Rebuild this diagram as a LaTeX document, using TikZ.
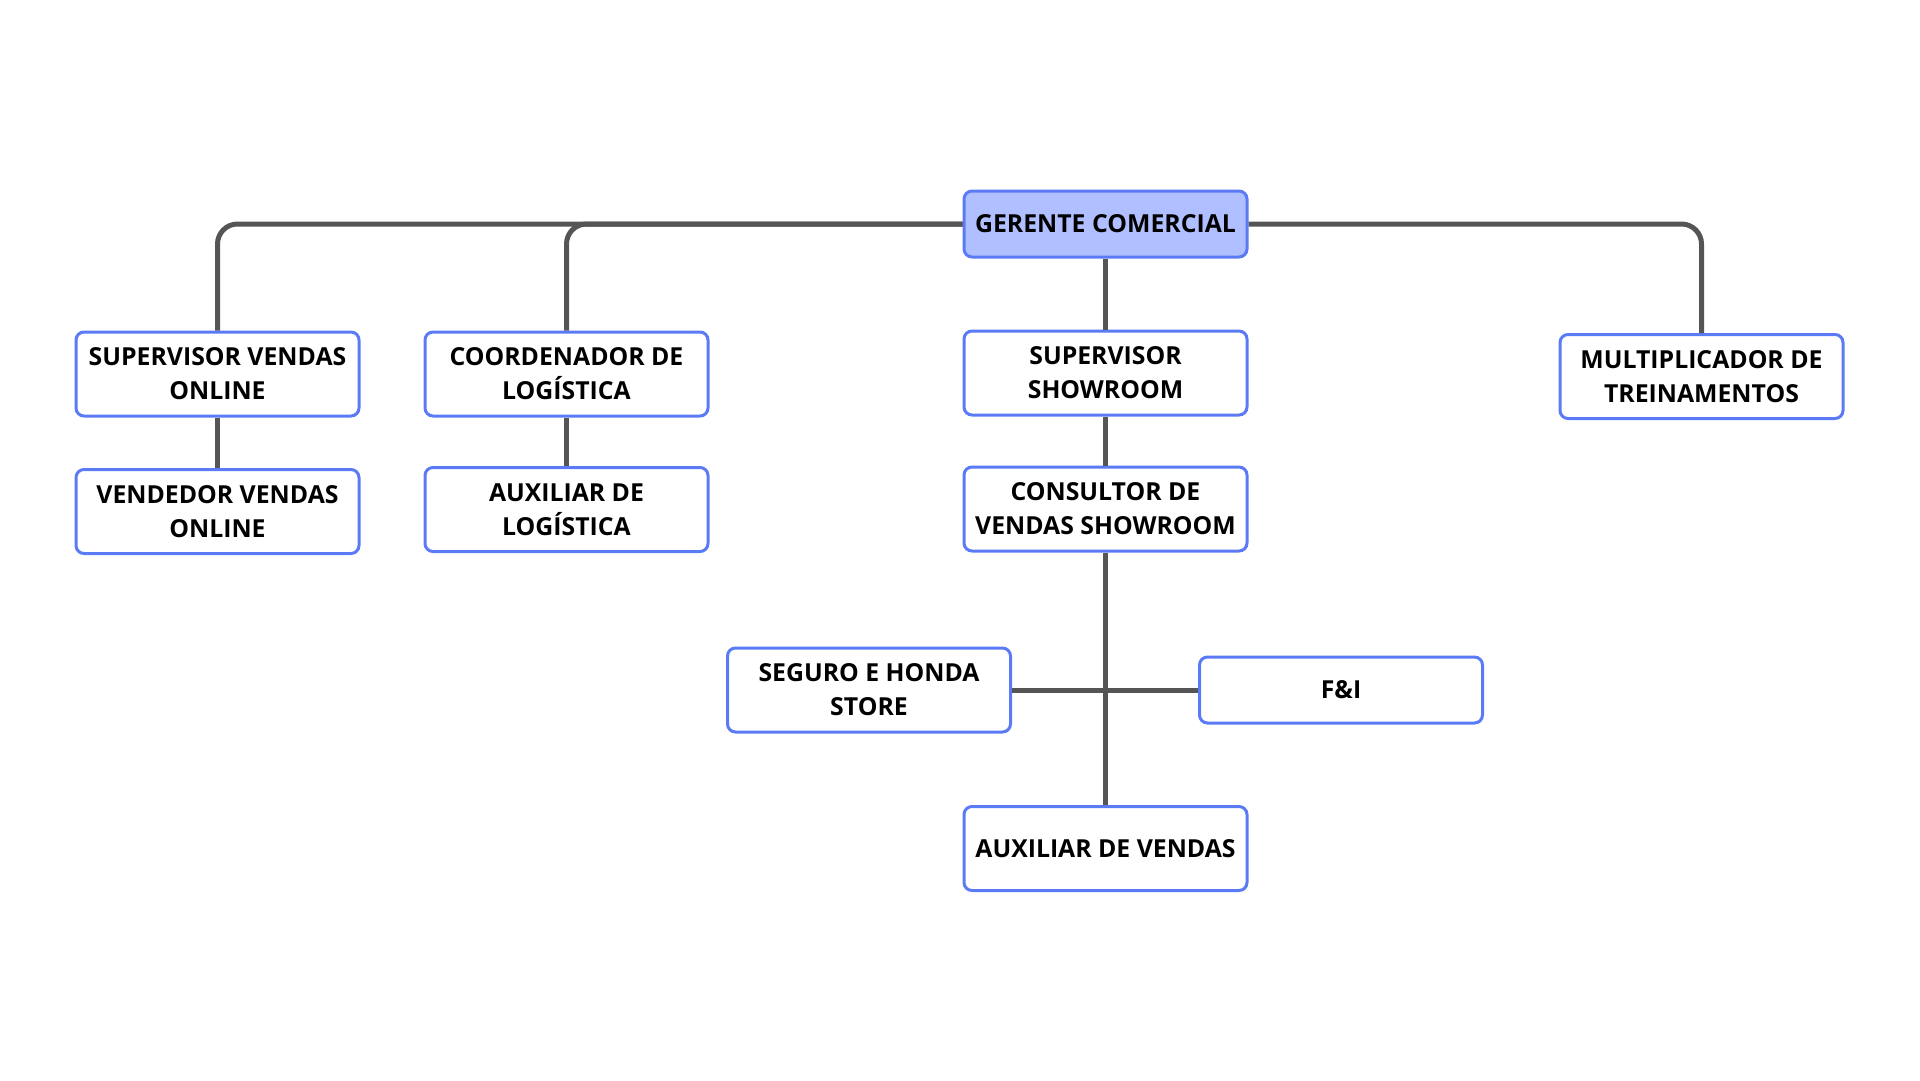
\documentclass[tikz,border=0pt]{standalone}
\usepackage{fontspec}
\setmainfont{Open Sans}
\definecolor{bordc}{HTML}{5B7BF6}
\definecolor{gerfill}{HTML}{B0BFFF}
\definecolor{linec}{HTML}{555555}
\tikzset{
  box/.style={draw=bordc, line width=3pt, rounded corners=8pt, fill=white,
    minimum width=283pt, minimum height=84pt, align=center, inner sep=0pt,
    font=\bfseries\fontsize{24.8}{34}\selectfont},
  conn/.style={draw=linec, line width=5pt},
}
\begin{document}
\begin{tikzpicture}[x=1pt,y=-1pt]
\path[use as bounding box] (0,0) rectangle (1920,1080);
\node[box, fill=gerfill, minimum height=66pt] (ger) at (1105.5,224) {GERENTE COMERCIAL};
\node[box] (svo) at (217.5,374) {SUPERVISOR VENDAS\\ONLINE};
\node[box] (vvo) at (217.5,511.5) {VENDEDOR VENDAS\\ONLINE};
\node[box] (cdl) at (566.5,374) {COORDENADOR DE\\LOGÍSTICA};
\node[box] (axl) at (566.5,509.5) {AUXILIAR DE\\LOGÍSTICA};
\node[box] (ssh) at (1105.5,373) {SUPERVISOR\\SHOWROOM};
\node[box] (csh) at (1105.5,509) {CONSULTOR DE\\VENDAS SHOWROOM};
\node[box] (mlt) at (1701.5,376.5) {MULTIPLICADOR DE\\TREINAMENTOS};
\node[box] (seg) at (869,690) {SEGURO E HONDA\\STORE};
\node[box, minimum height=66pt] (fi) at (1341,690) {F\&I};
\node[box] (axv) at (1105.5,848.5) {AUXILIAR DE VENDAS};

\draw[conn, rounded corners=20pt] (ger.west) -| (svo.north);
\draw[conn, rounded corners=20pt] (ger.west) -| (cdl.north);
\draw[conn, rounded corners=20pt] (ger.east) -| (mlt.north);
\draw[conn] (ger.south) -- (ssh.north);
\draw[conn] (ssh.south) -- (csh.north);
\draw[conn] (svo.south) -- (vvo.north);
\draw[conn] (cdl.south) -- (axl.north);
\draw[conn] (csh.south) -- (axv.north);
\draw[conn] (seg.east) -- (fi.west);
\end{tikzpicture}
\end{document}
